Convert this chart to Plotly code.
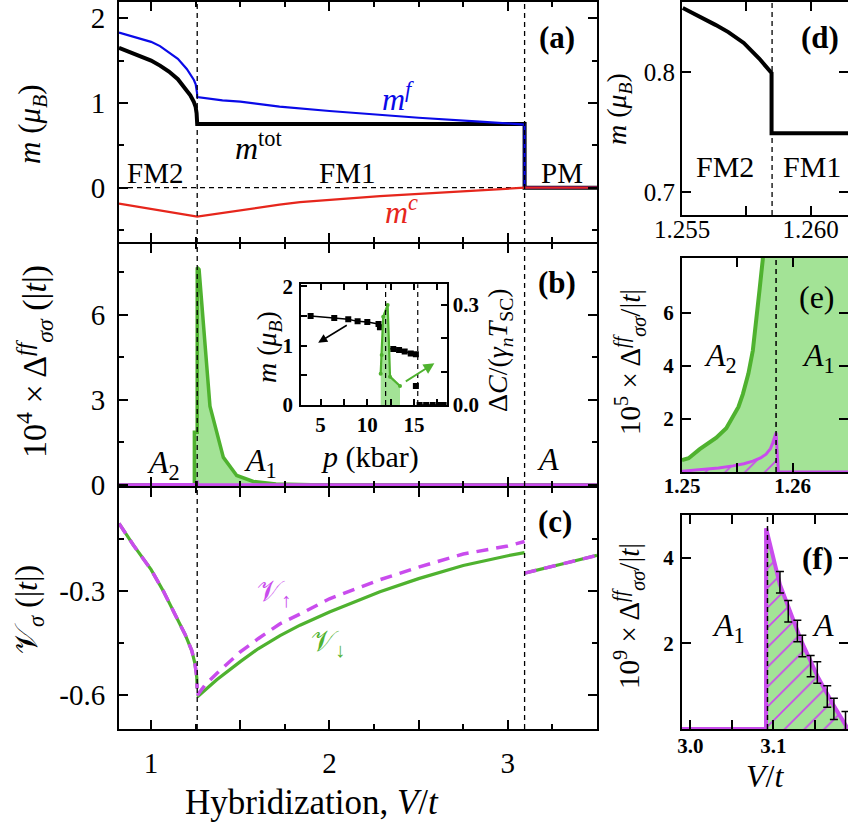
import plotly.graph_objects as go

W, H = 848, 828
def PX(x): return x / W
def PY(y): return 1 - y / H

SERIF = "Liberation Serif"
BLUE = "#0a0ae8"; RED = "#e6261c"; GREEN = "#4fb22f"; LGREEN = "#a3e396"; MAG = "#c94ced"

# ---------------- data ----------------
# (a) magnetisation vs V/t
mf_v = [0.82, 0.9, 1.0, 1.05, 1.1, 1.15, 1.2, 1.22, 1.24, 1.25, 1.255, 1.2575, 1.2585, 1.4, 1.5, 1.6, 1.72, 2.0, 2.283, 2.5, 2.843, 3.0, 3.094, 3.094, 3.5]
mf   = [1.83, 1.785, 1.72, 1.67, 1.60, 1.52, 1.40, 1.34, 1.27, 1.22, 1.17, 1.12, 1.07, 1.03, 1.015, 0.985, 0.956, 0.905, 0.86, 0.825, 0.78, 0.76, 0.745, 0.0, 0.0]
mtot_v = [0.82, 0.9, 1.0, 1.05, 1.1, 1.15, 1.2, 1.22, 1.24, 1.25, 1.255, 1.2575, 1.2585, 3.094, 3.094, 3.5]
mtot   = [1.65, 1.585, 1.50, 1.44, 1.37, 1.28, 1.15, 1.09, 1.01, 0.95, 0.88, 0.82, 0.75, 0.75, 0.0, 0.0]
mc_v = [0.82, 1.2585, 1.72, 1.835, 2.283, 2.843, 3.094, 3.5]
mc   = [-0.188, -0.34, -0.20, -0.17, -0.10, -0.03, 0.0, 0.0]

# (b) 10^4 x gap
gap_v   = [0.82, 1.2426, 1.2427, 1.2584, 1.2586, 1.269, 1.33, 1.405, 1.48, 1.573, 1.70, 1.9, 3.5]
gap_f   = [0.0, 0.0, 1.86, 1.86, 7.67, 7.6, 2.78, 0.97, 0.33, 0.12, 0.03, 0.0, 0.0]
gapA_v  = [0.82, 1.255, 1.2584, 1.2586, 3.5]
gapA    = [0.0, 0.02, 0.15, 0.0, 0.0]

# inset: experiment
p_m1 = [3.93, 6.46, 7.96, 8.96, 10.0, 11.2, 11.35]
m1   = [1.50, 1.467, 1.445, 1.41, 1.40, 1.366, 1.31]
p_m2 = [12.0, 12.78, 13.4, 14.0, 14.65, 15.2]
m2   = [0.956, 0.944, 0.927, 0.90, 0.87, 0.855]
p_m3 = [15.2]
m3   = [0.32]
p_m4 = [15.6, 16.3, 17.0, 17.7, 18.2]
m4   = [0.0, 0.0, 0.0, 0.0, 0.0]
p_c  = [11.43, 11.54, 11.7, 12.18, 12.43, 13.5]
dC   = [0.094, 0.15, 0.265, 0.30, 0.085, 0.057]

# (c) potentials
nu_v1  = [0.82, 0.9, 1.0, 1.069, 1.134, 1.19, 1.228, 1.246, 1.256, 1.258]
nu_l   = [-0.105, -0.167, -0.238, -0.30, -0.367, -0.424, -0.471, -0.509, -0.548, -0.58]
nu_v2  = [1.2585, 1.3, 1.368, 1.5, 1.6, 1.723, 1.835, 2.0, 2.283, 2.5, 2.75, 3.0, 3.094]
nu_dn  = [-0.605, -0.585, -0.555, -0.503, -0.466, -0.428, -0.398, -0.360, -0.302, -0.264, -0.226, -0.198, -0.189]
nu_up  = [-0.60, -0.572, -0.537, -0.475, -0.437, -0.394, -0.366, -0.322, -0.267, -0.231, -0.193, -0.170, -0.157]
nu_v3  = [3.094, 3.2, 3.31, 3.5]
nu_pm  = [-0.248, -0.234, -0.221, -0.197]

# (d) zoom of m_tot
d_v = [1.25503, 1.2557, 1.2563, 1.2568, 1.2574, 1.2580, 1.25848, 1.25848, 1.2615]
d_m = [0.853, 0.846, 0.839, 0.833, 0.824, 0.811, 0.799, 0.749, 0.749]

# (e) 10^5 x gap
e_v   = [1.2500, 1.2506, 1.2516, 1.2531, 1.2540, 1.2546, 1.2551, 1.2555, 1.2560, 1.2564, 1.2567, 1.2570, 1.2573, 1.2578, 1.2584, 1.2586, 1.2650]
e_gr  = [0.45, 0.52, 0.86, 1.29, 1.65, 2.05, 2.45, 2.93, 3.7, 4.57, 5.6, 6.83, 8.0, 12.0, 18.6, 76.7, 60.0]
e_mv  = [1.2500, 1.2533, 1.2546, 1.2556, 1.2564, 1.2571, 1.2576, 1.2580, 1.2582, 1.2585, 1.2587, 1.2650]
e_mg  = [0.03, 0.15, 0.23, 0.31, 0.41, 0.53, 0.67, 0.88, 1.1, 1.48, 0.0, 0.0]

# (f) 10^9 x gap
f_v  = [2.99, 3.0912, 3.0913, 3.100, 3.108, 3.133, 3.153, 3.173, 3.189, 3.19]
f_g  = [0.0, 0.0, 4.69, 3.95, 3.37, 2.09, 1.24, 0.54, 0.04, 0.0]
f_ev = [3.108, 3.118, 3.129, 3.135, 3.145, 3.153, 3.165, 3.173, 3.187]
f_e  = [3.43, 2.75, 2.29, 1.94, 1.47, 1.32, 0.76, 0.47, 0.16]
f_err = [0.25, 0.25, 0.25, 0.25, 0.25, 0.25, 0.25, 0.25, 0.25]

V_c1, V_c2 = 1.2585, 3.094

fig = go.Figure()
def tr(x, y, xa, ya, **kw):
    fig.add_trace(go.Scatter(x=x, y=y, xaxis=xa, yaxis=ya, showlegend=False, hoverinfo="skip", **kw))

# (a)
tr(mtot_v, mtot, "x", "y", mode="lines", line=dict(color="black", width=4))
tr(mf_v, mf, "x", "y", mode="lines", line=dict(color=BLUE, width=2.2))
tr(mc_v, mc, "x", "y", mode="lines", line=dict(color=RED, width=2.2))
# (b)
tr(gap_v, gap_f, "x2", "y2", mode="lines", line=dict(color=GREEN, width=3.5), fill="tozeroy", fillcolor=LGREEN)
tr(gapA_v, gapA, "x2", "y2", mode="lines", line=dict(color=MAG, width=3))
# inset
tr(p_c, dC, "x7", "y8", mode="lines+markers", line=dict(color=GREEN, width=2.2), marker=dict(size=4, color=GREEN), fill="tozeroy", fillcolor=LGREEN)
for px_, m_ in [(p_m1, m1), (p_m2, m2), (p_m3, m3), (p_m4, m4)]:
    tr(px_, m_, "x7", "y7", mode="lines+markers", line=dict(color="black", width=1.5), marker=dict(symbol="square", size=6, color="black"))
# (c)
nu_x = nu_v1 + [None] + nu_v2 + [None] + nu_v3
tr(nu_x, nu_l + [None] + nu_dn + [None] + nu_pm, "x3", "y3", mode="lines", line=dict(color=GREEN, width=3.2), connectgaps=False)
tr(nu_x, nu_l + [None] + nu_up + [None] + nu_pm, "x3", "y3", mode="lines", line=dict(color=MAG, width=3.5, dash="12px,8px"), connectgaps=False)
# (d)
tr(d_v, d_m, "x4", "y4", mode="lines", line=dict(color="black", width=4))
# (e)
tr(e_v, e_gr, "x5", "y5", mode="lines", line=dict(color=GREEN, width=4), fill="tozeroy", fillcolor=LGREEN)
tr(e_mv, e_mg, "x5", "y5", mode="lines", line=dict(color=MAG, width=3), fill="tozeroy",
   fillpattern=dict(shape="/", fgcolor=MAG, bgcolor=LGREEN, size=14, solidity=0.12))
# (f)
tr(f_v, f_g, "x6", "y6", mode="lines", line=dict(color=MAG, width=4), fill="tozeroy",
   fillpattern=dict(shape="/", fgcolor=MAG, bgcolor=LGREEN, size=14, solidity=0.12))
tr(f_ev, f_e, "x6", "y6", mode="markers", marker=dict(size=1, color="rgba(0,0,0,0)"),
   error_y=dict(type="data", array=f_err, color="black", thickness=1.5, width=4))

def axis(dom, rng, anchor, size=29, bold=False, standoff=0, **kw):
    d = dict(domain=dom, range=rng, anchor=anchor, showline=True, linecolor="black", linewidth=2,
             mirror="ticks", ticks="inside", tickcolor="black", tickwidth=1.5, ticklen=9,
             showgrid=False, zeroline=False, ticklabelstandoff=standoff, automargin=False,
             tickfont=dict(family=SERIF, size=size, color="black", weight="bold" if bold else "normal"))
    d.update(kw)
    return d

def minor(dt):
    return dict(ticks="inside", ticklen=5, tickwidth=1.5, tickcolor="black", dtick=dt, showgrid=False)

XR = [0.82, 3.5]
xmain = dict(tickmode="array", tickvals=[1, 1.5, 2, 2.5, 3], ticktext=["1", "", "2", "", "3"], minor=minor(0.25))
dxa = [PX(119), PX(597)]
dxr = [PX(682), 1.0]

fig.update_layout(
    template="none",
    width=W, height=H, margin=dict(l=0, r=0, t=0, b=0, autoexpand=False),
    paper_bgcolor="white", plot_bgcolor="white",
    xaxis=axis(dxa, XR, "y", showticklabels=False, **xmain),
    yaxis=axis([PY(242), PY(2)], [-0.64, 2.19], "x", standoff=6, tickmode="array", tickvals=[0, 1, 2], ticktext=["0", "1", "2"], minor=minor(0.5)),
    xaxis2=axis(dxa, XR, "y2", showticklabels=False, **xmain),
    yaxis2=axis([PY(486), PY(244)], [-0.04, 8.5], "x2", standoff=6, tickmode="array", tickvals=[0, 3, 6], ticktext=["0", "3", "6"], minor=minor(1.5)),
    xaxis3=axis(dxa, XR, "y3", standoff=7, **xmain),
    yaxis3=axis([PY(729), PY(488)], [-0.697, -0.003], "x3", standoff=6, tickmode="array", tickvals=[-0.6, -0.3], ticktext=["-0.6", "-0.3"], minor=minor(0.15)),
    xaxis4=axis(dxr, [1.255, 1.26145], "y4", size=25, standoff=-9, tickmode="array", tickvals=[1.255, 1.2575, 1.26], ticktext=["1.255", "", "1.260"]),
    yaxis4=axis([PY(215), PY(2)], [0.681, 0.858], "x4", size=25, standoff=0, tickmode="array", tickvals=[0.7, 0.8], ticktext=["0.7", "0.8"]),
    xaxis5=axis(dxr, [1.25, 1.265], "y5", size=21, bold=True, standoff=-6, tickmode="array", tickvals=[1.25, 1.255, 1.26], ticktext=["1.25", "", "1.26"]),
    yaxis5=axis([PY(472), PY(258)], [0, 8.05], "x5", size=21, bold=True, standoff=2, tickmode="array", tickvals=[2, 4, 6], ticktext=["2", "4", "6"]),
    xaxis6=axis(dxr, [2.99, 3.19], "y6", size=21, bold=True, standoff=-3, tickmode="array", tickvals=[3.0, 3.05, 3.1, 3.15], ticktext=["3.0", "", "3.1", ""]),
    yaxis6=axis([PY(729), PY(515)], [0, 5.0], "x6", size=21, bold=True, standoff=2, tickmode="array", tickvals=[2, 4], ticktext=["2", "4"]),
    xaxis7=axis([PX(301), PX(446.7)], [2.9, 18.5], "y7", size=21, bold=True, standoff=0, linewidth=1.5, ticklen=6,
                tickmode="array", tickvals=[5, 10, 15], ticktext=["5", "10", "15"], minor=dict(ticks="inside", ticklen=6, tickwidth=1.5, tickcolor="black", tickvals=[7.5, 12.5, 17.5])),
    yaxis7=axis([PY(405), PY(284.3)], [0, 2.035], "x7", size=21, bold=True, standoff=2, linewidth=1.5, ticklen=6, mirror=True,
                tickmode="array", tickvals=[0, 1, 2], ticktext=["0", "1", "2"], minor=dict(ticks="inside", ticklen=6, tickwidth=1.5, tickcolor="black", dtick=0.5)),
    yaxis8=axis([PY(405), PY(284.3)], [0, 0.362], "x7", size=21, bold=True, standoff=0, linewidth=1.5, ticklen=6, mirror=False,
                overlaying="y7", side="right", tickmode="array", tickvals=[0, 0.3], ticktext=["0.0", "0.3"],
                minor=dict(ticks="inside", ticklen=6, tickwidth=1.5, tickcolor="black", dtick=0.1)),
)

# dashed guide lines
dash = "5px,4px"
shapes = [
    dict(type="line", xref="x", yref="paper", x0=V_c1, x1=V_c1, y0=PY(729), y1=PY(2), line=dict(color="black", width=1.3, dash=dash), layer="above"),
    dict(type="line", xref="x", yref="paper", x0=V_c2, x1=V_c2, y0=PY(729), y1=PY(2), line=dict(color="black", width=1.3, dash=dash), layer="above"),
    dict(type="line", xref="x", yref="y", x0=XR[0], x1=XR[1], y0=0, y1=0, line=dict(color="black", width=1.2, dash=dash), layer="below"),
    dict(type="line", xref="x4", yref="y4 domain", x0=V_c1, x1=V_c1, y0=0, y1=1, line=dict(color="black", width=1.3, dash=dash), layer="above"),
    dict(type="line", xref="x5", yref="y5 domain", x0=V_c1, x1=V_c1, y0=0, y1=1, line=dict(color="black", width=1.5, dash=dash), layer="above"),
    dict(type="line", xref="x6", yref="y6 domain", x0=3.093, x1=3.093, y0=0, y1=1, line=dict(color="black", width=1.5, dash=dash), layer="above"),
    dict(type="line", xref="x7", yref="y7 domain", x0=11.96, x1=11.96, y0=0, y1=1, line=dict(color="black", width=1.2, dash=dash), layer="above"),
    dict(type="line", xref="x7", yref="y7 domain", x0=15.4, x1=15.4, y0=0, y1=1, line=dict(color="black", width=1.2, dash=dash), layer="above"),
]
fig.update_layout(shapes=shapes)

anns = []
def T(text, x, y, size=28, color="black", angle=0):
    anns.append(dict(text=text, x=PX(x), y=PY(y), xref="paper", yref="paper", showarrow=False,
                     xanchor="center", yanchor="middle", textangle=angle,
                     font=dict(family=SERIF, size=size, color=color)))

# titles
T("<i>m</i> (<i>μ<sub>B</sub></i>)", 32, 124, 31, angle=-90)
T("10<sup>4</sup> × Δ<sup><i>ff</i></sup><sub><i>σσ</i></sub> (|<i>t</i>|)", 35, 362, 34, angle=-90)
T("𝒱<sub><i>σ</i></sub> (|<i>t</i>|)", 28, 610, 32, angle=-90)
T("Hybridization, <i>V</i>/<i>t</i>", 312, 802, 35)
# panel (a)
T("FM2", 155, 173, 29); T("FM1", 347, 173, 29); T("PM", 562, 173, 29)
T("<i>m</i><sup><i>f</i></sup>", 398, 97, 32, BLUE)
T("<i>m</i><sup>tot</sup>", 259, 146, 32)
T("<i>m</i><sup><i>c</i></sup>", 401, 210, 32, RED)
T("<b>(a)</b>", 557, 38, 31)
# panel (b)
T("<i>A</i><sub>2</sub>", 163, 464, 32); T("<i>A</i><sub>1</sub>", 260, 462, 32); T("<i>A</i>", 548, 459, 32)
T("<b>(b)</b>", 557, 283, 31)
T("<i>m</i> (<i>μ<sub>B</sub></i>)", 268, 347, 28, angle=-90)
T("Δ<i>C</i>/(<i>γ<sub>n</sub>T</i><sub>SC</sub>)", 499, 350, 28, angle=-90)
T("<i>p</i> (kbar)", 370, 457, 30)
# panel (c)
T("<b>(c)</b>", 555, 521, 31)
T("𝒱<sub>↑</sub>", 274, 593, 29, MAG)
T("𝒱<sub>↓</sub>", 328, 643, 29, GREEN)
# (d)
T("<i>m</i> (<i>μ<sub>B</sub></i>)", 618, 109, 28, angle=-90)
T("FM2", 725, 166, 30); T("FM1", 812, 166, 30)
T("<b>(d)</b>", 820, 38, 31)
# (e)
T("10<sup>5</sup> × Δ<sup><i>ff</i></sup><sub><i>σσ</i></sub>/|<i>t</i>|", 630, 362, 29, angle=-90)
T("<i>A</i><sub>2</sub>", 720, 357, 32); T("<i>A</i><sub>1</sub>", 818, 357, 32)
T("(e)", 817, 297, 32)
# (f)
T("10<sup>9</sup> × Δ<sup><i>ff</i></sup><sub><i>σσ</i></sub>/|<i>t</i>|", 629, 616, 29, angle=-90)
T("<i>A</i><sub>1</sub>", 728, 627, 32); T("<i>A</i>", 823, 625, 32)
T("<b>(f)</b>", 817, 558, 31)
T("<i>V</i>/<i>t</i>", 765, 776, 32)

# inset arrows
anns.append(dict(x=4.74, y=1.05, ax=7.96, ay=1.36, xref="x7", yref="y7", axref="x7", ayref="y7", text="",
                 showarrow=True, arrowhead=2, arrowsize=1.2, arrowwidth=1.5, arrowcolor="black"))
anns.append(dict(x=17.18, y=0.125, ax=13.96, ay=0.068, xref="x7", yref="y8", axref="x7", ayref="y8", text="",
                 showarrow=True, arrowhead=2, arrowsize=1.2, arrowwidth=1.8, arrowcolor=GREEN))
fig.update_layout(annotations=anns)

fig.write_html("out.html", config={"displayModeBar": False},
               post_script="document.body.style.margin='0px';document.body.style.overflow='hidden';")
